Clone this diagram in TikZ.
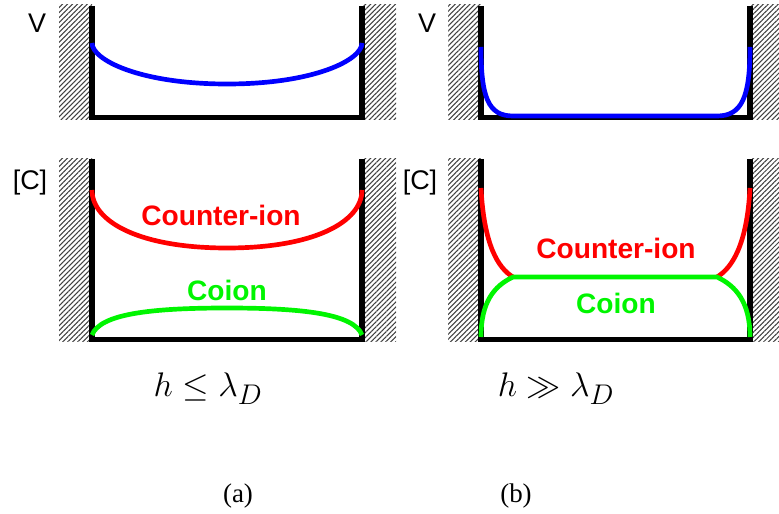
\documentclass[tikz,border=0pt]{standalone}
\usepackage{amsmath}
\usepackage{amssymb}
\usepackage{fontspec}
\setmainfont{Liberation Serif}
\setsansfont{Liberation Sans}
\usepackage{xcolor}
\usepackage{tikz}
\usetikzlibrary{patterns.meta}

\definecolor{potblue}{RGB}{0,0,255}
\definecolor{ionred}{RGB}{255,0,0}
\definecolor{ionlime}{RGB}{0,245,0}

\begin{document}
\begin{tikzpicture}[
    x=0.03cm, y=-0.03cm,
    hatch/.style={pattern={Lines[angle=45, distance=3pt, line width=0.9pt]}, pattern color=black!75},
    wall/.style={draw=black, line width=4.3pt, line join=miter},
    curve/.style={line width=4pt},
    axislabel/.style={font=\sffamily\fontsize{23}{26}\selectfont, inner sep=0pt},
    ionlabel/.style={font=\sffamily\bfseries\fontsize{24}{28}\selectfont, inner sep=0pt},
    condition/.style={font=\fontsize{24.88}{30}\selectfont, inner sep=0pt, anchor=base},
    caption/.style={font=\fontsize{23}{27}\selectfont, inner sep=0pt, anchor=base}
]
\useasboundingbox (0,0) rectangle (779,514);

% Hatched walls
\fill[hatch] (59,5) rectangle (92,120);
\fill[hatch] (362,5) rectangle (396,120);
\fill[hatch] (448,5) rectangle (481,120);
\fill[hatch] (750,5) rectangle (779,120);
\fill[hatch] (59,159) rectangle (92,342);
\fill[hatch] (362,159) rectangle (396,342);
\fill[hatch] (448,159) rectangle (481,342);
\fill[hatch] (750,159) rectangle (779,342);

% Channels
\draw[wall] (92,6) -- (92,117.5) -- (362,117.5) -- (362,6);
\draw[wall] (481,6) -- (481,117.5) -- (750,117.5) -- (750,6);
\draw[wall] (92,159) -- (92,339.5) -- (362,339.5) -- (362,159);
\draw[wall] (481,159) -- (481,339.5) -- (750,339.5) -- (750,159);

% Potential, thin channel
\draw[curve, potblue] (92,43) .. controls (92,60) and (140,84) .. (227,84)
    .. controls (314,84) and (362,60) .. (362,43);

% Potential, wide channel
\draw[curve, potblue] (481,47) .. controls (481,97) and (488,116) .. (513,116) -- (717,116)
    .. controls (742,116) and (750,97) .. (750,47);

% Concentrations, thin channel
\draw[curve, ionred] (92,190) .. controls (92,222) and (140,248) .. (227,248)
    .. controls (314,248) and (362,222) .. (362,190);
\draw[curve, ionlime] (92,335) .. controls (100,314) and (150,308) .. (227,308)
    .. controls (304,308) and (354,314) .. (362,335);

% Concentrations, wide channel
\draw[curve, ionred] (481,188) .. controls (484,245) and (498,268) .. (513,277);
\draw[curve, ionred] (717,277) .. controls (732,268) and (747,245) .. (750,188);
\draw[curve, ionlime] (481,337) .. controls (481,302) and (494,286) .. (513,277) -- (717,277)
    .. controls (736,286) and (750,302) .. (750,337);

% Axis labels
\node (vleft) [axislabel] at (37,23) {V};
\node (vright) [axislabel] at (427,23) {V};
\node (cleft) [axislabel] at (30,183) {[C]};
\node (cright) [axislabel] at (420,183) {[C]};

% Ion labels
\node (counterleft) [ionlabel, text=ionred] at (221,215) {Counter-ion};
\node (coionleft) [ionlabel, text=ionlime] at (227,290) {Coion};
\node (counterright) [ionlabel, text=ionred] at (616,248) {Counter-ion};
\node (coionright) [ionlabel, text=ionlime] at (616,303) {Coion};

% Conditions
\node (thin) [condition] at (208,397) {\scalebox{1.17}{$h \leq \lambda_D$}};
\node (wide) [condition] at (556,397) {\scalebox{1.17}{$h \gg \lambda_D$}};

% Captions
\node (capa) [caption] at (238,502) {(a)};
\node (capb) [caption] at (516,502) {(b)};

\end{tikzpicture}
\end{document}
